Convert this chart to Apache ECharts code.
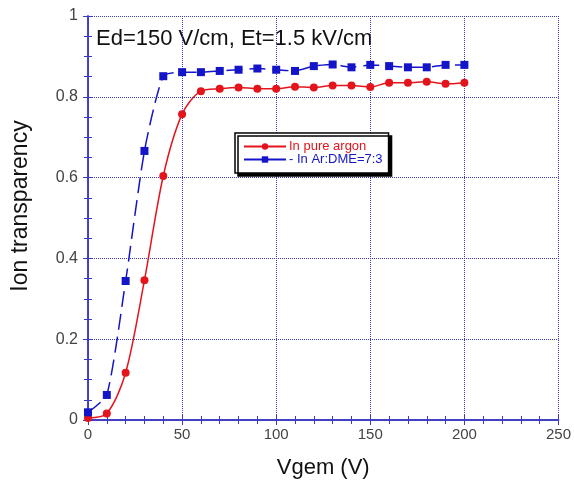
<!doctype html>
<html>
<head>
<meta charset="utf-8">
<title>Ion transparency</title>
<script type="text/javascript" src="https://cdn.jsdelivr.net/npm/echarts@6/dist/echarts.min.js"></script>
</head>
<body style="margin:0;padding:0;background:#fff">
<div id="tb" style="width:574px;height:484px;"></div>
<script>
// 数据
var vgem = [0, 10, 20, 30, 40, 50, 60, 70, 80, 90, 100, 110, 120, 130, 140, 150, 160, 170, 180, 190, 200];
var argon = [0.005, 0.016, 0.117, 0.346, 0.604, 0.757, 0.814, 0.820, 0.823, 0.820, 0.820, 0.825, 0.823, 0.828, 0.828, 0.824, 0.835, 0.835, 0.837, 0.832, 0.835];
var ardme = [0.019, 0.062, 0.344, 0.666, 0.851, 0.861, 0.861, 0.864, 0.867, 0.870, 0.867, 0.864, 0.876, 0.880, 0.873, 0.879, 0.876, 0.873, 0.873, 0.879, 0.879];
var nameArgon = 'In pure argon';
var nameDme = '- In Ar:DME=7:3';

var red = '#e3141c';
var blue = '#1414c8';
var frame = '#3a3ac4';
var font = 'Liberation Sans, Arial, Helvetica, sans-serif';

function pairs(xs, ys) {
    return xs.map(function (x, i) { return [x, ys[i]]; });
}

var bt = document.getElementById('tb');
var btchart = echarts.init(bt);

var tickCommon = {
    axisLine: { show: true, lineStyle: { color: frame, width: 1.5 } },
    axisTick: { show: true, inside: true, length: 5, lineStyle: { color: frame } },
    minorTick: { show: true, length: 4, lineStyle: { color: frame } }
};

btchart.setOption({
    animation: false,
    grid: { left: 88, right: 11, top: 16, bottom: 62, containLabel: false },
    xAxis: [
        Object.assign({
            type: 'value', min: 0, max: 250, interval: 50,
            name: 'Vgem (V)', nameLocation: 'middle', nameGap: 37,
            nameTextStyle: { fontFamily: font, fontSize: 22, color: '#111' },
            axisLabel: { fontFamily: font, fontSize: 15, color: '#444', margin: 7 },
            splitLine: { show: true, lineStyle: { color: frame, type: 'dotted', width: 1 } }
        }, tickCommon, { minorTick: { show: true, splitNumber: 5, length: 4, lineStyle: { color: frame } } }),
        Object.assign({
            type: 'value', min: 0, max: 250, interval: 50, position: 'top',
            axisLabel: { show: false }, splitLine: { show: false }
        }, tickCommon, { minorTick: { show: true, splitNumber: 5, length: 4, lineStyle: { color: frame } } })
    ],
    yAxis: [
        Object.assign({
            type: 'value', min: 0, max: 1, interval: 0.2,
            axisLabel: { fontFamily: font, fontSize: 16, color: '#444', margin: 10 },
            splitLine: { show: true, lineStyle: { color: frame, type: 'dotted', width: 1 } }
        }, tickCommon, { minorTick: { show: true, splitNumber: 4, length: 4, lineStyle: { color: frame } } }),
        Object.assign({
            type: 'value', min: 0, max: 1, interval: 0.2, position: 'right',
            axisLabel: { show: false }, splitLine: { show: false }
        }, tickCommon, { minorTick: { show: true, splitNumber: 4, length: 4, lineStyle: { color: frame } } })
    ],
    legend: {
        orient: 'vertical',
        left: 235, top: 133,
        padding: [7, 6, 7, 8],
        itemWidth: 42, itemHeight: 8, itemGap: 0,
        backgroundColor: '#fff',
        borderColor: '#000', borderWidth: 1.5, borderRadius: 0,
        shadowColor: '#000', shadowBlur: 0, shadowOffsetX: 3, shadowOffsetY: 3,
        textStyle: { fontFamily: font, fontSize: 13, lineHeight: 11, padding: [0, 0, 0, -2] },
        data: [
            { name: nameArgon, textStyle: { color: red } },
            { name: nameDme, textStyle: { color: blue }, lineStyle: { type: 'solid' } }
        ]
    },
    graphic: [
        {
            type: 'text', left: 96, top: 28,
            style: { text: 'Ed=150 V/cm, Et=1.5 kV/cm', fontFamily: font, fontSize: 22, fill: '#111' }
        },
        {
            type: 'text', x: 21, y: 206, rotation: Math.PI / 2,
            style: { text: 'Ion transparency', fontFamily: font, fontSize: 23, fill: '#111', textAlign: 'center', textVerticalAlign: 'middle' }
        }
    ],
    series: [
        {
            name: nameArgon, type: 'line',
            data: pairs(vgem, argon),
            smooth: 0.3,
            symbol: 'circle', symbolSize: 8,
            itemStyle: { color: red },
            lineStyle: { color: red, width: 1.5 },
            z: 3
        },
        {
            name: nameDme, type: 'line',
            data: pairs(vgem, ardme),
            smooth: 0.2,
            symbol: 'rect', symbolSize: 8,
            itemStyle: { color: blue },
            lineStyle: { color: blue, width: 1.5, type: [16, 7] },
            z: 4
        }
    ]
});
</script>
</body>
</html>
